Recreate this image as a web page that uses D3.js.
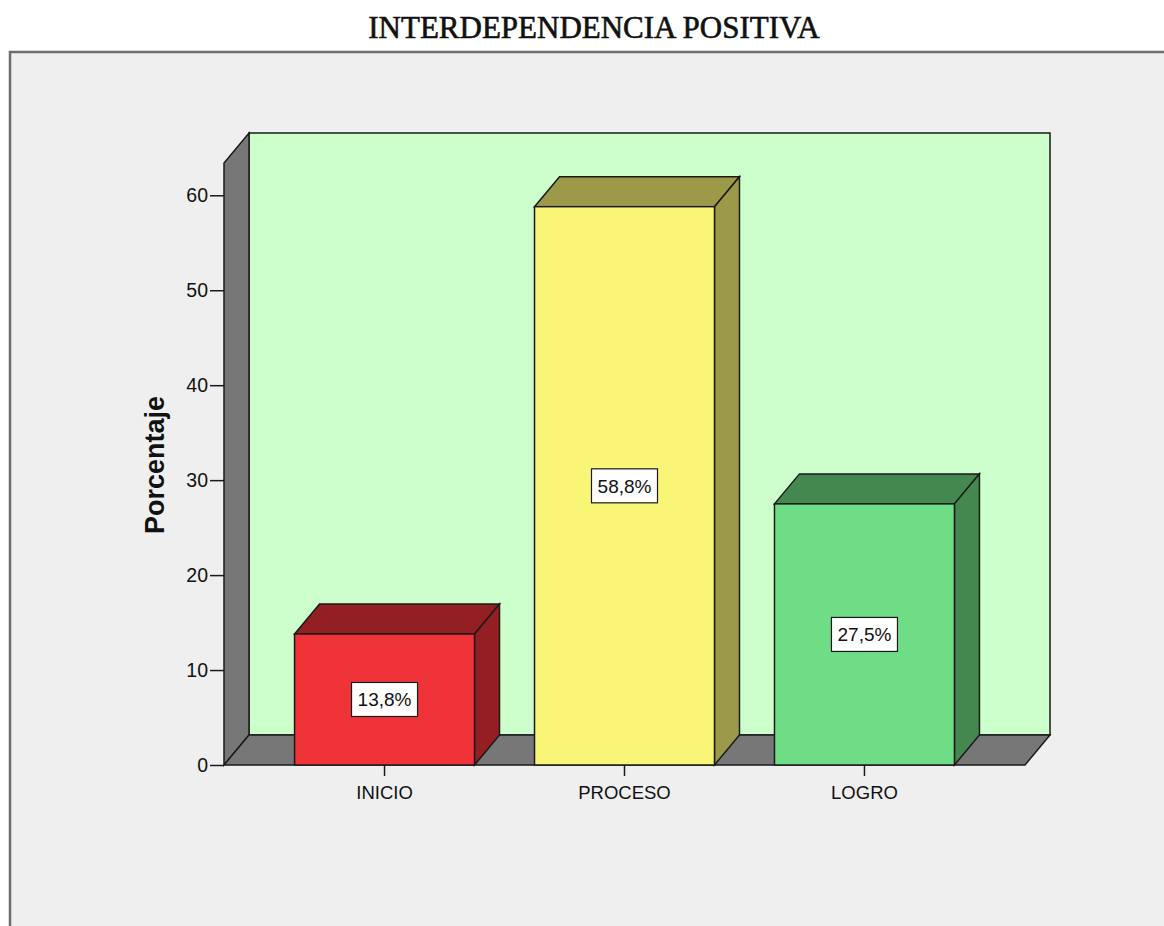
<!DOCTYPE html>
<html>
<head>
<meta charset="utf-8">
<script src="https://cdn.jsdelivr.net/npm/d3@7"></script>
<style>
  body { margin: 0; background: #fff; }
  text { font-family: "Liberation Sans", Arial, sans-serif; fill: #111; }
  .title { font-family: "Liberation Serif", "Times New Roman", serif; }
</style>
</head>
<body>
<div id="chart"></div>
<script>
// Data
const categories = ['INICIO', 'PROCESO', 'LOGRO'];
const percentages = [13.8, 58.8, 27.5];
const barLabels = ['13,8%', '58,8%', '27,5%'];
const yTicks = [0, 10, 20, 30, 40, 50, 60];
const frontColors = ['#ef3339', '#f9f677', '#6fdc86'];
const shadeColors = ['#931f23', '#9c9a48', '#44874f'];

class Bar3D {
  constructor(_config) {
    this.config = {
      parentElement: _config.parentElement,
      containerWidth: 1164,
      containerHeight: 926,
      // front plane of the plot
      left: 224, right: 1025, top: 163, bottom: 765,
      depthX: 25, depthY: 30,
    };
    this.initVis();
  }

  initVis() {
    const vis = this;
    const c = vis.config;

    vis.svg = d3.select(c.parentElement).append('svg')
      .attr('width', c.containerWidth)
      .attr('height', c.containerHeight);

    // outer frame (runs off the right/bottom of the picture)
    vis.svg.append('rect')
      .attr('x', 10).attr('y', 52)
      .attr('width', 1200).attr('height', 950)
      .attr('fill', '#efefef')
      .attr('stroke', '#6e6e6e')
      .attr('stroke-width', 2.5);

    vis.svg.append('text')
      .attr('class', 'title')
      .attr('x', 594).attr('y', 38)
      .attr('text-anchor', 'middle')
      .style('font-size', '31px')
      .style('stroke', '#111')
      .style('stroke-width', 0.6)
      .text('INTERDEPENDENCIA POSITIVA');

    vis.xScale = d3.scaleBand()
      .domain(categories)
      .range([c.left, c.right])
      .paddingInner(0.25)
      .paddingOuter(0.294);

    vis.yScale = d3.scaleLinear()
      .domain([0, 63.4])
      .range([c.bottom, c.top]);

    vis.chart = vis.svg.append('g');
    vis.renderVis();
  }

  renderVis() {
    const vis = this;
    const c = vis.config;
    const dx = c.depthX;
    const dy = c.depthY;
    const y0 = vis.yScale(0);
    const yTop = vis.yScale.range()[1];
    const stroke = '#1a1a1a';

    // back wall
    vis.chart.append('rect')
      .attr('x', c.left + dx).attr('y', yTop - dy)
      .attr('width', c.right - c.left).attr('height', y0 - yTop)
      .attr('fill', '#ccffcc')
      .attr('stroke', stroke).attr('stroke-width', 1.5);

    // side wall
    vis.chart.append('polygon')
      .attr('points', [[c.left, y0], [c.left, yTop], [c.left + dx, yTop - dy], [c.left + dx, y0 - dy]].join(' '))
      .attr('fill', '#777777')
      .attr('stroke', stroke).attr('stroke-width', 1.5);

    // floor
    vis.chart.append('polygon')
      .attr('points', [[c.left, y0], [c.right, y0], [c.right + dx, y0 - dy], [c.left + dx, y0 - dy]].join(' '))
      .attr('fill', '#777777')
      .attr('stroke', stroke).attr('stroke-width', 1.5);

    const barData = categories.map((cat, i) => ({
      cat, value: percentages[i], label: barLabels[i], front: frontColors[i], shade: shadeColors[i],
    }));

    const bar = vis.chart.selectAll('.bar')
      .data(barData)
      .join('g')
      .attr('class', 'bar');

    const bw = vis.xScale.bandwidth();

    bar.append('polygon')
      .attr('points', (d) => {
        const x = vis.xScale(d.cat);
        const y = vis.yScale(d.value);
        return [[x, y], [x + dx, y - dy], [x + bw + dx, y - dy], [x + bw, y]].join(' ');
      })
      .attr('fill', (d) => d.shade)
      .attr('stroke', stroke).attr('stroke-width', 1.5);

    bar.append('polygon')
      .attr('points', (d) => {
        const x = vis.xScale(d.cat) + bw;
        const y = vis.yScale(d.value);
        return [[x, y], [x + dx, y - dy], [x + dx, y0 - dy], [x, y0]].join(' ');
      })
      .attr('fill', (d) => d.shade)
      .attr('stroke', stroke).attr('stroke-width', 1.5);

    bar.append('rect')
      .attr('x', (d) => vis.xScale(d.cat))
      .attr('y', (d) => vis.yScale(d.value))
      .attr('width', bw)
      .attr('height', (d) => y0 - vis.yScale(d.value))
      .attr('fill', (d) => d.front)
      .attr('stroke', stroke).attr('stroke-width', 1.5);

    // value labels in white boxes, at half bar height
    const lbl = bar.append('g')
      .attr('transform', (d) => `translate(${vis.xScale(d.cat) + bw / 2},${vis.yScale(d.value / 2)})`);
    lbl.append('rect')
      .attr('x', -33).attr('y', -17)
      .attr('width', 66).attr('height', 34)
      .attr('fill', '#fff')
      .attr('stroke', stroke).attr('stroke-width', 1.2);
    lbl.append('text')
      .attr('text-anchor', 'middle')
      .attr('dy', '0.36em')
      .style('font-size', '19px')
      .text((d) => d.label);

    // y axis
    const yAxis = d3.axisLeft(vis.yScale)
      .tickValues(yTicks)
      .tickSize(14)
      .tickPadding(2);
    const yAxisG = vis.chart.append('g')
      .attr('transform', `translate(${c.left},0)`)
      .call(yAxis);
    yAxisG.select('.domain').remove();
    yAxisG.selectAll('line').attr('stroke', stroke).attr('stroke-width', 1.5);
    yAxisG.selectAll('text')
      .attr('fill', '#111')
      .style('font-size', '19.5px')
      .style('font-family', '"Liberation Sans", Arial, sans-serif');

    // x axis
    const xAxis = d3.axisBottom(vis.xScale)
      .tickSize(11)
      .tickPadding(10);
    const xAxisG = vis.chart.append('g')
      .attr('transform', `translate(0,${y0})`)
      .call(xAxis);
    xAxisG.select('.domain').remove();
    xAxisG.selectAll('line').attr('stroke', stroke).attr('stroke-width', 1.5);
    xAxisG.selectAll('text')
      .attr('fill', '#111')
      .style('font-size', '18.5px')
      .style('font-family', '"Liberation Sans", Arial, sans-serif');

    // axis title
    vis.chart.append('text')
      .attr('transform', 'translate(164,465) rotate(-90)')
      .attr('text-anchor', 'middle')
      .style('font-size', '27px')
      .style('font-weight', 'bold')
      .text('Porcentaje');
  }
}

new Bar3D({ parentElement: '#chart' });
</script>
</body>
</html>
